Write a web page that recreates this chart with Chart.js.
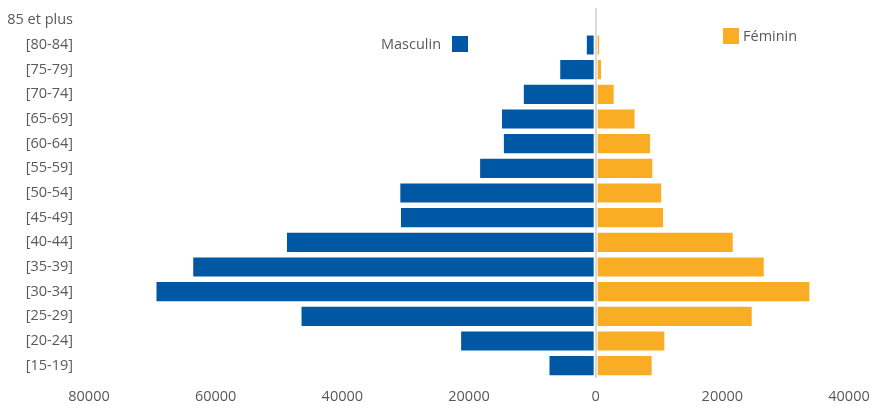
<!DOCTYPE html>
<html>
<head>
<meta charset="utf-8">
<script src="https://cdn.jsdelivr.net/npm/chart.js@4.4.0/dist/chart.umd.min.js"></script>
<style>
  html,body{margin:0;padding:0;background:#fff}
  .wrap{position:relative;width:874px;height:406px}
  .lg{position:absolute;font-family:"Open Sans",sans-serif;font-size:14.5px;color:#595959;line-height:16px}
  .sw{position:absolute;width:16px;height:16px}
</style>
</head>
<body>
<div class="wrap">
  <canvas id="c" width="874" height="406"></canvas>
  <span class="lg" style="left:381px;top:36px">Masculin</span>
  <span class="sw" style="left:452px;top:36px;background:#0057a3"></span>
  <span class="sw" style="left:723px;top:28px;background:#f9ad24"></span>
  <span class="lg" style="left:743px;top:28px">Féminin</span>
</div>
<script>
// tranches d'âge, du haut vers le bas
const ages = ['85 et plus','[80-84]','[75-79]','[70-74]','[65-69]','[60-64]','[55-59]',
  '[50-54]','[45-49]','[40-44]','[35-39]','[30-34]','[25-29]','[20-24]','[15-19]'];
const masculin = [-450,-1550,-5750,-11500,-14950,-14650,-18400,
  -31000,-30900,-48900,-63700,-69500,-46600,-21400,-7450];
const feminin = [300,700,1000,3000,6300,8750,9100,
  10500,10800,21800,26700,33900,24800,11000,9000];

const BLUE = '#0057a3', ORANGE = '#f9ad24';
const FONT = { family: '"Open Sans", sans-serif', size: 14.5 };

new Chart(document.getElementById('c'), {
  type: 'bar',
  data: {
    labels: ages,
    datasets: [
      { label: 'Masculin', data: masculin, backgroundColor: BLUE,
        borderColor: 'rgba(255,255,255,0.45)', borderWidth: 1, borderSkipped: false },
      { label: 'Féminin', data: feminin, backgroundColor: ORANGE,
        borderColor: 'rgba(255,255,255,0.45)', borderWidth: 1, borderSkipped: false },
    ]
  },
  options: {
    indexAxis: 'y',
    responsive: false,
    animation: false,
    layout: { padding: { top: 8, right: 25, bottom: 0, left: 0 } },
    datasets: { bar: { categoryPercentage: 1, barPercentage: 0.86 } },
    plugins: { legend: { display: false }, tooltip: { enabled: false } },
    scales: {
      x: {
        stacked: true, min: -80000, max: 40000,
        border: { display: false },
        grid: { color: c => c.tick && c.tick.value === 0 ? '#d9d9d9' : 'transparent', lineWidth: 2, drawTicks: false },
        ticks: { stepSize: 20000, padding: 10, color: '#595959', font: FONT,
          callback: v => String(Math.abs(v)) },
        afterFit: s => { s.height = 28; s.paddingLeft = 0; s.paddingRight = 0; }
      },
      y: {
        stacked: true,
        border: { display: false },
        grid: { display: false, drawTicks: false },
        ticks: { padding: 16, color: '#595959', autoSkip: false, font: FONT },
        afterFit: s => { s.width = 89; s.paddingTop = 0; s.paddingBottom = 0; }
      }
    }
  }
});
</script>
</body>
</html>
